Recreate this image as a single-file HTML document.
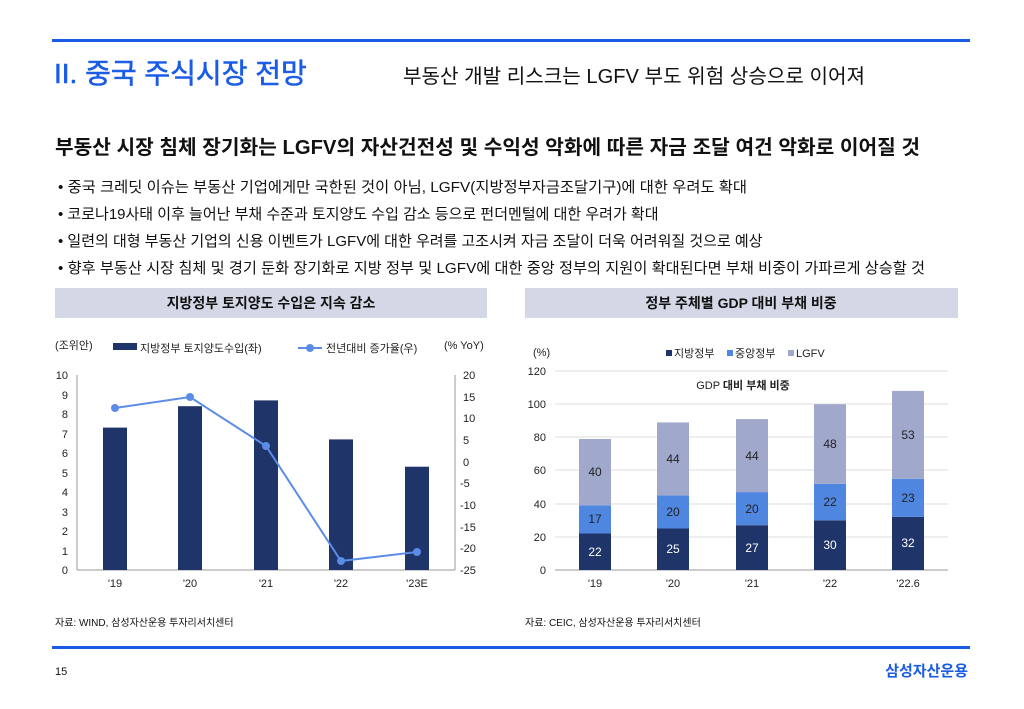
<!DOCTYPE html>
<html><head><meta charset="utf-8"><style>
body{margin:0;background:#fff;}
svg{display:block;}
text{font-family:"Liberation Sans","Noto Sans CJK KR",sans-serif;}
</style></head><body>
<svg width="1024" height="709" viewBox="0 0 1024 709" xmlns="http://www.w3.org/2000/svg">
<rect width="1024" height="709" fill="#fff"/>
<rect x="52" y="39" width="918" height="3" fill="#1a5ce6"/>
<text x="54" y="83" font-size="28" fill="#1a5ce6" stroke="#1a5ce6" stroke-width="0.6">II. 중국 주식시장 전망</text>
<text x="403" y="83" font-size="20" fill="#111" textLength="462" lengthAdjust="spacingAndGlyphs">부동산 개발 리스크는 LGFV 부도 위험 상승으로 이어져</text>
<text x="55" y="154" font-size="20" font-weight="bold" fill="#111" textLength="865" lengthAdjust="spacingAndGlyphs">부동산 시장 침체 장기화는 LGFV의 자산건전성 및 수익성 악화에 따른 자금 조달 여건 악화로 이어질 것</text>
<g font-size="15" fill="#111">
<text x="58" y="192" textLength="689" lengthAdjust="spacingAndGlyphs">• 중국 크레딧 이슈는 부동산 기업에게만 국한된 것이 아님, LGFV(지방정부자금조달기구)에 대한 우려도 확대</text>
<text x="58" y="219">• 코로나19사태 이후 늘어난 부채 수준과 토지양도 수입 감소 등으로 펀더멘털에 대한 우려가 확대</text>
<text x="58" y="246">• 일련의 대형 부동산 기업의 신용 이벤트가 LGFV에 대한 우려를 고조시켜 자금 조달이 더욱 어려워질 것으로 예상</text>
<text x="58" y="273" textLength="867" lengthAdjust="spacingAndGlyphs">• 향후 부동산 시장 침체 및 경기 둔화 장기화로 지방 정부 및 LGFV에 대한 중앙 정부의 지원이 확대된다면 부채 비중이 가파르게 상승할 것</text>
</g>
<rect x="55" y="288" width="432" height="30" fill="#d3d7e6"/>
<rect x="525" y="288" width="433" height="30" fill="#d3d7e6"/>
<text x="271" y="308" font-size="14" font-weight="bold" text-anchor="middle" fill="#111">지방정부 토지양도 수입은 지속 감소</text>
<text x="741" y="308" font-size="14" font-weight="bold" text-anchor="middle" fill="#111">정부 주체별 GDP 대비 부채 비중</text>

<!-- Left chart -->
<g font-size="11" fill="#222">
<text x="55" y="349">(조위안)</text>
<rect x="113" y="343" width="24" height="7" fill="#1f3468"/>
<text x="140" y="352">지방정부 토지양도수입(좌)</text>
<line x1="298" y1="348" x2="322" y2="348" stroke="#5b8de8" stroke-width="2"/>
<circle cx="310" cy="348" r="4" fill="#5b8de8"/>
<text x="326" y="352">전년대비 증가율(우)</text>
<text x="444" y="349">(% YoY)</text>
</g>
<line x1="77" y1="375" x2="77" y2="570" stroke="#999"/>
<line x1="455" y1="375" x2="455" y2="570" stroke="#999"/>
<line x1="77" y1="570" x2="455" y2="570" stroke="#999"/>
<g font-size="11" fill="#222" text-anchor="end">
<text x="68" y="379">10</text><text x="68" y="399">9</text><text x="68" y="418">8</text><text x="68" y="438">7</text><text x="68" y="457">6</text><text x="68" y="477">5</text><text x="68" y="496">4</text><text x="68" y="516">3</text><text x="68" y="535">2</text><text x="68" y="555">1</text><text x="68" y="574">0</text>
</g>
<g font-size="11" fill="#222">
<text x="463" y="379">20</text><text x="463" y="401">15</text><text x="463" y="422">10</text><text x="463" y="444">5</text><text x="463" y="466">0</text><text x="460" y="487">-5</text><text x="460" y="509">-10</text><text x="460" y="531">-15</text><text x="460" y="552">-20</text><text x="460" y="574">-25</text>
</g>
<g fill="#1f3468">
<rect x="103" y="427.6" width="24" height="142.4"/>
<rect x="178" y="406.2" width="24" height="163.8"/>
<rect x="254" y="400.4" width="24" height="169.6"/>
<rect x="329" y="439.4" width="24" height="130.6"/>
<rect x="405" y="466.7" width="24" height="103.3"/>
</g>
<polyline points="115,408 190,397 266,446 341,561 417,552" fill="none" stroke="#5b8de8" stroke-width="2"/>
<g fill="#5b8de8"><circle cx="115" cy="408" r="4"/><circle cx="190" cy="397" r="4"/><circle cx="266" cy="446" r="4"/><circle cx="341" cy="561" r="4"/><circle cx="417" cy="552" r="4"/></g>
<g font-size="11" fill="#222" text-anchor="middle">
<text x="115" y="587">'19</text><text x="190" y="587">'20</text><text x="266" y="587">'21</text><text x="341" y="587">'22</text><text x="417" y="587">'23E</text>
</g>

<!-- Right chart -->
<g font-size="11" fill="#222">
<text x="533" y="356">(%)</text>
<rect x="666" y="350" width="6" height="6" fill="#1f3468"/><text x="674" y="357">지방정부</text>
<rect x="727" y="350" width="6" height="6" fill="#4f86e0"/><text x="735" y="357">중앙정부</text>
<rect x="788" y="350" width="6" height="6" fill="#a0a8cc"/><text x="796" y="357">LGFV</text>
</g>
<g stroke="#ddd">
<line x1="555" y1="371" x2="948" y2="371"/><line x1="555" y1="404" x2="948" y2="404"/><line x1="555" y1="437" x2="948" y2="437"/><line x1="555" y1="470" x2="948" y2="470"/><line x1="555" y1="504" x2="948" y2="504"/><line x1="555" y1="537" x2="948" y2="537"/>
</g>
<line x1="555" y1="570" x2="948" y2="570" stroke="#999"/>
<g font-size="11" fill="#222" text-anchor="end">
<text x="546" y="375">120</text><text x="546" y="408">100</text><text x="546" y="441">80</text><text x="546" y="474">60</text><text x="546" y="508">40</text><text x="546" y="541">20</text><text x="546" y="574">0</text>
</g>
<text x="743" y="389" font-size="11" fill="#222" text-anchor="middle">GDP <tspan font-weight="bold">대비 부채 비중</tspan></text>
<g>
<rect x="579" y="533.5" width="32" height="36.5" fill="#1f3468"/><rect x="579" y="505.3" width="32" height="28.2" fill="#4f86e0"/><rect x="579" y="439" width="32" height="66.3" fill="#a0a8cc"/>
<rect x="657" y="528.5" width="32" height="41.5" fill="#1f3468"/><rect x="657" y="495.4" width="32" height="33.1" fill="#4f86e0"/><rect x="657" y="422.4" width="32" height="73" fill="#a0a8cc"/>
<rect x="736" y="525.2" width="32" height="44.8" fill="#1f3468"/><rect x="736" y="492.1" width="32" height="33.1" fill="#4f86e0"/><rect x="736" y="419.1" width="32" height="73" fill="#a0a8cc"/>
<rect x="814" y="520.3" width="32" height="49.7" fill="#1f3468"/><rect x="814" y="483.8" width="32" height="36.5" fill="#4f86e0"/><rect x="814" y="404.2" width="32" height="79.6" fill="#a0a8cc"/>
<rect x="892" y="516.9" width="32" height="53.1" fill="#1f3468"/><rect x="892" y="478.8" width="32" height="38.1" fill="#4f86e0"/><rect x="892" y="390.9" width="32" height="87.9" fill="#a0a8cc"/>
</g>
<g font-size="12" text-anchor="middle">
<g fill="#fff"><text x="595" y="556">22</text><text x="673" y="553">25</text><text x="752" y="552">27</text><text x="830" y="549">30</text><text x="908" y="547">32</text></g>
<g fill="#222"><text x="595" y="523">17</text><text x="673" y="516">20</text><text x="752" y="513">20</text><text x="830" y="506">22</text><text x="908" y="502">23</text>
<text x="595" y="476">40</text><text x="673" y="463">44</text><text x="752" y="460">44</text><text x="830" y="448">48</text><text x="908" y="439">53</text></g>
</g>
<g font-size="11" fill="#222" text-anchor="middle">
<text x="595" y="587">'19</text><text x="673" y="587">'20</text><text x="752" y="587">'21</text><text x="830" y="587">'22</text><text x="908" y="587">'22.6</text>
</g>

<text x="55" y="626" font-size="10" fill="#111">자료: WIND, 삼성자산운용 투자리서치센터</text>
<text x="525" y="626" font-size="10" fill="#111">자료: CEIC, 삼성자산운용 투자리서치센터</text>
<rect x="52" y="646" width="918" height="3" fill="#1a5ce6"/>
<text x="55" y="675" font-size="11" fill="#111">15</text>
<text x="968" y="676" font-size="15" font-weight="bold" fill="#1a5ce6" text-anchor="end">삼성자산운용</text>
</svg>
</body></html>
